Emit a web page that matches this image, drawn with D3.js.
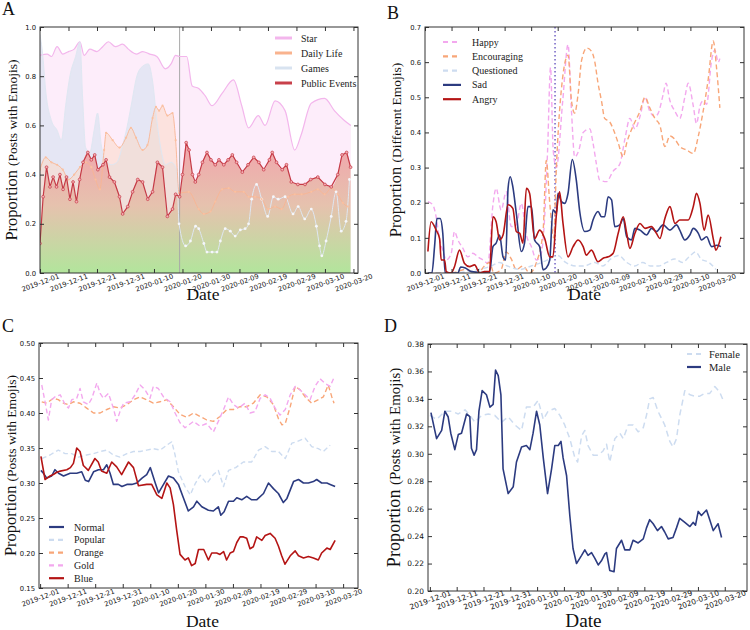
<!DOCTYPE html>
<html><head><meta charset="utf-8">
<script src="https://cdn.jsdelivr.net/npm/d3@7"></script>
<style>body{margin:0;background:#fff;}svg{display:block;}</style>
</head><body>
<svg id="chart" width="750" height="630"></svg>
<script>
// ---------------- DATA ----------------
const startDay = "2019-12-01";
const eventDay = "2020-01-19";
const xTickLabels = ["2019-12-01","2019-12-11","2019-12-21","2019-12-31","2020-01-10","2020-01-20","2020-01-30","2020-02-09","2020-02-19","2020-02-29","2020-03-10","2020-03-20"];
const aYTicks = [0.0,0.2,0.4,0.6,0.8,1.0];
const bYTicks = [0.0,0.1,0.2,0.3,0.4,0.5,0.6,0.7];
const cYTicks = [0.15,0.20,0.25,0.30,0.35,0.40,0.45,0.50];
const dYTicks = [0.20,0.22,0.24,0.26,0.28,0.30,0.32,0.34,0.36,0.38];

const aCategories = ["Star","Daily Life","Games","Public Events"];
const bCategories = ["Happy","Encouraging","Questioned","Sad","Angry"];
const cCategories = ["Normal","Popular","Orange","Gold","Blue"];
const dCategories = ["Female","Male"];

// [day offset from 2019-12-01, proportion]
const aStar = [[0,0.885],[2.5,0.89],[4,0.88],[6,0.92],[8,0.89],[10,0.9],[12,0.91],[14,0.94],[15.5,0.885],[17.5,0.91],[20,0.9],[22,0.92],[24,0.94],[26.5,0.92],[29,0.93],[31,0.91],[34,0.89],[36,0.9],[38.5,0.89],[41,0.88],[44,0.83],[46,0.85],[47.6,0.885],[49,0.88],[51.5,0.88],[53.4,0.76],[55.7,0.75],[58,0.72],[60.4,0.68],[63.9,0.73],[67.9,0.785],[70.8,0.68],[73.2,0.59],[76.6,0.64],[79,0.6],[82.5,0.7],[86,0.66],[89.4,0.5],[91.6,0.56],[95.2,0.69],[99.9,0.71],[103.3,0.66],[106.8,0.62],[109.1,0.6]];
const aGames = [[0,0.97],[1,0.88],[2,0.74],[4,0.62],[6,0.58],[7.5,0.54],[9,0.68],[10.5,0.8],[12.5,0.88],[14,0.94],[15,0.7],[16,0.51],[17.5,0.49],[19,0.58],[20.2,0.65],[21.5,0.52],[23,0.46],[25,0.44],[27,0.45],[29,0.52],[30.5,0.59],[32,0.68],[34,0.8],[36,0.84],[38,0.85],[39.5,0.78],[41,0.62],[42.5,0.5],[44,0.44],[46,0.45],[48,0.42],[48.8,0.2],[51.1,0.11],[52.8,0.13],[54.6,0.19],[55.7,0.18],[57.5,0.12],[58.6,0.085],[60.4,0.085],[62.1,0.085],[63.3,0.13],[65,0.18],[66.8,0.17],[68.5,0.15],[70.3,0.175],[72,0.18],[73.2,0.2],[74.3,0.3],[76,0.36],[77.8,0.3],[79.9,0.23],[81.9,0.31],[83.6,0.3],[86,0.31],[88.8,0.24],[90.6,0.27],[92.9,0.22],[95.2,0.26],[97,0.19],[98.1,0.11],[98.9,0.07],[100.4,0.13],[102.2,0.23],[103.9,0.33],[105.7,0.17],[107.4,0.21],[108.6,0.38]];
const aDaily = [[0,0.42],[2,0.47],[4,0.45],[6,0.44],[8,0.42],[10,0.38],[12,0.4],[14,0.43],[16,0.45],[18,0.43],[19.5,0.38],[21,0.34],[22.5,0.5],[23.2,0.57],[25.5,0.54],[27.9,0.51],[30.2,0.55],[31.9,0.59],[33.7,0.55],[36,0.5],[37.7,0.52],[39.5,0.63],[40.7,0.675],[41.8,0.66],[43,0.68],[44.7,0.64],[46.5,0.65],[47.6,0.54],[48.8,0.325],[52.2,0.33],[55.7,0.26],[57.5,0.24],[59.8,0.25],[61.5,0.29],[63.9,0.34],[66.2,0.345],[68.5,0.33],[71.5,0.33],[73.2,0.31],[75.5,0.31],[77.8,0.3],[80.1,0.26],[82.5,0.27],[84.8,0.26],[87.1,0.31],[89.4,0.32],[91.8,0.32],[95.2,0.33],[97.5,0.34],[99.9,0.32],[102.2,0.345],[104.5,0.32],[106.3,0.285],[108,0.27]];
const aPublic = [[0,0.12],[1.1,0.31],[2.3,0.43],[3.5,0.35],[4.6,0.39],[5.8,0.35],[7,0.4],[8.1,0.34],[9.3,0.39],[10.5,0.3],[11.6,0.37],[12.8,0.29],[13.9,0.38],[15.1,0.45],[16.8,0.49],[18,0.46],[19.2,0.48],[20.3,0.42],[22.1,0.44],[23.2,0.46],[24.4,0.39],[26.1,0.37],[27.9,0.31],[29,0.24],[30.8,0.27],[32.5,0.33],[34.3,0.38],[36,0.37],[37.8,0.3],[39.5,0.33],[41.2,0.45],[43,0.43],[44.7,0.23],[46.5,0.26],[47.6,0.32],[49,0.31],[50,0.4],[51.3,0.53],[52.3,0.5],[53.5,0.4],[54.5,0.37],[55.7,0.4],[57,0.45],[58.6,0.49],[60,0.46],[61.5,0.44],[62.8,0.46],[64.5,0.44],[66,0.46],[67.5,0.48],[69,0.45],[71,0.41],[73,0.44],[75,0.47],[76.8,0.45],[78.5,0.42],[80.5,0.46],[81.5,0.49],[83,0.45],[85,0.42],[86.5,0.44],[88.2,0.37],[90.5,0.36],[93,0.36],[95,0.38],[97.5,0.39],[100,0.36],[102.2,0.35],[104.5,0.4],[106,0.48],[107.6,0.49],[109,0.43]];

const bHappy = [[1.1,0.203],[3,0.193],[4.2,0.16],[5.5,0.094],[6.7,0.065],[8,0.037],[9.9,0.056],[11.1,0.118],[12.4,0.094],[14.3,0.07],[16.1,0.046],[18,0.056],[19.9,0.046],[21.8,0.037],[23.7,0.028],[25.6,0.194],[26.8,0.241],[28.7,0.179],[30.6,0.231],[32.5,0.132],[34.4,0.137],[36.3,0.198],[38.2,0.108],[40.1,0.075],[42,0.037],[43.8,0.056],[45.1,0.16],[46.2,0.35],[47.3,0.585],[48.3,0.35],[49.5,0.3],[51.9,0.49],[53.9,0.65],[55.2,0.46],[56.4,0.33],[58,0.35],[59.6,0.4],[62.1,0.41],[63.3,0.37],[64.6,0.31],[65.8,0.265],[68.4,0.26],[70.9,0.29],[73.4,0.31],[75.3,0.38],[77.2,0.44],[79.1,0.41],[81,0.445],[82.9,0.5],[84.7,0.46],[86.6,0.445],[87.9,0.455],[89.8,0.51],[90.8,0.54],[92.3,0.49],[94.2,0.46],[96,0.44],[97.9,0.5],[99.2,0.54],[101.1,0.475],[102.3,0.425],[103.6,0.475],[104.8,0.49],[106.1,0.48],[108,0.605],[109.2,0.635],[110.5,0.6],[111.1,0.61]];
const bEncouraging = [[1,0],[5,0],[10,0],[15,0.01],[20,0],[22.4,0.02],[24.3,0.03],[26,0],[28.7,0.01],[30.6,0.06],[32.5,0.04],[34.4,0.01],[36.9,0.02],[39.4,0],[42,0.03],[44.5,0.12],[45.7,0.32],[47,0.2],[48.5,0.1],[49.5,0.3],[51,0.49],[53.9,0.62],[55.2,0.49],[56.4,0.455],[57.7,0.51],[59,0.605],[61,0.64],[62.8,0.63],[64,0.6],[65.2,0.54],[66.5,0.49],[67.7,0.44],[69.6,0.43],[70.9,0.41],[72.8,0.37],[74.7,0.33],[76,0.37],[78.5,0.42],[81,0.46],[82.9,0.5],[84.7,0.47],[86.6,0.44],[88.5,0.42],[90.4,0.36],[92.3,0.39],[94.2,0.38],[96,0.36],[98.6,0.35],[101.1,0.34],[103,0.39],[104.8,0.46],[106.7,0.55],[108.6,0.66],[109.9,0.58],[111.1,0.47]];
const bQuestioned = [[1,0],[10,0],[20,0.01],[25,0.02],[28,0.03],[31,0.02],[36,0.01],[40,0.02],[44,0.03],[47,0.04],[50,0.05],[53,0.03],[57,0.02],[60,0.02],[64,0.03],[67,0.02],[70,0.04],[73,0.05],[76,0.03],[79,0.02],[82,0.03],[85,0.02],[88,0.02],[91,0.03],[94,0.04],[97,0.03],[100,0.05],[102,0.06],[104,0.04],[107,0.03],[109.6,0.01]];
const bSad = [[1.1,0],[2.6,0],[3.6,0.075],[4.5,0.155],[5.7,0.155],[6.7,0.113],[7.6,0],[12.4,0],[13.4,0.017],[15.2,0.014],[17.4,0.004],[24.3,0],[25.6,0.075],[26.8,0.085],[28.1,0.108],[29.4,0.046],[30.4,0.037],[31.3,0.241],[32.1,0.274],[33.1,0.245],[34.4,0.17],[36.3,0.061],[37.5,0.085],[38.8,0.189],[40.1,0.189],[41.3,0.094],[43.2,0.075],[44.5,0.009],[45.7,0.014],[47,0.037],[48.2,0.18],[49.5,0.17],[50.1,0.227],[51.4,0.203],[52.6,0.198],[53.9,0.227],[55.5,0.323],[57,0.265],[58.3,0.175],[60.2,0.118],[62.1,0.122],[63.3,0.151],[65.2,0.175],[66.5,0.16],[67.7,0.16],[69,0.217],[70.3,0.208],[71.5,0.132],[73.4,0.137],[74.7,0.155],[76,0.103],[77.8,0.094],[79.1,0.127],[81,0.122],[83.5,0.108],[85.3,0.127],[87.2,0.118],[89.7,0.137],[92.3,0.122],[94.8,0.137],[96,0.122],[97.9,0.094],[99.8,0.108],[101.1,0.127],[103,0.113],[104.2,0.094],[106.1,0.103],[108,0.075],[109.9,0.079],[111.5,0.075]];
const bAngry = [[1.1,0.061],[2.3,0.146],[4.2,0.122],[5.5,0.098],[6.1,0.037],[7.4,0.037],[8,0.004],[9.9,0],[11.1,0.018],[13,0.065],[14.9,0.027],[16.8,0.018],[18.7,0.023],[20.6,0],[22.4,0.004],[24.3,0.004],[25.6,0.16],[26.8,0.146],[28.1,0.094],[29.4,0.108],[31.3,0.194],[33.1,0.184],[34.4,0.118],[35.7,0.113],[36.9,0.085],[38.2,0.241],[39.4,0.227],[41.3,0.098],[43.2,0.122],[45.1,0.098],[47,0.046],[48.2,0.046],[49.5,0.165],[50.7,0.231],[52,0.141],[53.9,0.046],[55.8,0.075],[57.7,0.094],[59.6,0.075],[60.8,0.051],[62.7,0.065],[65.2,0.032],[67.1,0.042],[69,0.046],[70.9,0.056],[72.8,0.113],[74.7,0.16],[76,0.113],[77.2,0.07],[79.1,0.113],[81,0.141],[82.9,0.127],[85.3,0.132],[87.2,0.113],[88.5,0.098],[90.4,0.155],[92.3,0.189],[94.2,0.141],[96,0.151],[99.2,0.151],[101.1,0.189],[102.3,0.227],[103.6,0.198],[105.2,0.122],[106.7,0.165],[108.6,0.098],[109.6,0.065],[111.5,0.103]];

const cNormal = [[0.3,0.318],[1.2,0.314],[2.4,0.307],[4.2,0.31],[5.4,0.319],[6.7,0.314],[8.5,0.31],[10.9,0.314],[13.3,0.314],[15.1,0.316],[16.4,0.304],[17.6,0.302],[19.4,0.316],[21.2,0.319],[23,0.319],[24.2,0.326],[25.4,0.314],[26.6,0.298],[28.4,0.298],[29.7,0.295],[31.5,0.298],[33.3,0.298],[35.1,0.3],[37,0.307],[38.7,0.312],[40,0.322],[41.8,0.3],[43,0.286],[44.8,0.298],[46.6,0.31],[48.4,0.307],[50.2,0.298],[52,0.279],[53.8,0.26],[55.7,0.266],[56.9,0.274],[58.7,0.266],[61.1,0.261],[62.9,0.26],[64.7,0.266],[65.6,0.254],[66.8,0.259],[68.4,0.274],[70.2,0.274],[71.4,0.279],[73.2,0.276],[75,0.281],[76.8,0.276],[78.6,0.276],[81.1,0.285],[82.9,0.3],[84.7,0.292],[86.5,0.285],[88.3,0.272],[89.6,0.278],[92,0.302],[93.8,0.305],[95.6,0.3],[97.4,0.3],[99.2,0.302],[100.4,0.305],[102.2,0.3],[104.1,0.3],[105.3,0.298],[107.1,0.295]];
const cPopular = [[0.6,0.335],[3.6,0.34],[6.6,0.347],[9.1,0.342],[11.5,0.342],[13.9,0.337],[16.9,0.34],[19.4,0.342],[21.8,0.345],[24.2,0.347],[26.6,0.34],[29,0.337],[31.5,0.342],[33.9,0.345],[36.3,0.345],[38.7,0.347],[41.1,0.349],[43.6,0.347],[46,0.354],[47.8,0.359],[49,0.34],[50.2,0.316],[52.6,0.295],[54.5,0.283],[56.3,0.299],[58.1,0.311],[60.5,0.299],[62.9,0.312],[64.7,0.318],[66.6,0.295],[68.4,0.318],[71,0.322],[73.8,0.33],[76.8,0.33],[79.3,0.347],[81.7,0.352],[84.1,0.345],[86.5,0.345],[89,0.335],[91.4,0.357],[93.2,0.359],[96.2,0.364],[98.6,0.352],[101,0.349],[102.8,0.345],[105.3,0.354]];
const cOrange = [[0.6,0.416],[2.4,0.414],[4.8,0.421],[6.6,0.419],[8.5,0.414],[10.3,0.412],[12.1,0.416],[14.5,0.414],[16.9,0.407],[19.4,0.4],[21.8,0.4],[24.2,0.405],[26.6,0.409],[29,0.407],[31.5,0.412],[33.9,0.419],[36.3,0.423],[38.7,0.419],[41.1,0.414],[43.5,0.416],[46,0.419],[48.4,0.409],[50.8,0.398],[53.2,0.394],[55.7,0.4],[58.1,0.395],[60.5,0.39],[62.9,0.388],[65.3,0.395],[67.8,0.405],[70.2,0.405],[72.6,0.409],[75,0.409],[77.4,0.414],[79.9,0.426],[82.3,0.423],[84.7,0.412],[86.5,0.392],[87.8,0.383],[89,0.385],[90.8,0.409],[92.6,0.438],[94.4,0.433],[96.2,0.423],[98.6,0.414],[101,0.419],[102.8,0.423],[104.6,0.44],[105.9,0.423],[106.7,0.414]];
const cGold = [[0.6,0.44],[1.8,0.416],[3,0.39],[4.2,0.419],[5.4,0.423],[7.3,0.426],[9.1,0.412],[10.3,0.407],[11.5,0.419],[13.3,0.421],[14.5,0.435],[15.7,0.416],[17.5,0.412],[18.8,0.421],[20.6,0.443],[21.8,0.428],[23,0.421],[24.8,0.428],[26.6,0.407],[27.8,0.388],[29,0.402],[30.3,0.414],[32.7,0.416],[34.5,0.426],[36.3,0.44],[38.1,0.433],[39.9,0.421],[41.1,0.438],[42.9,0.435],[44.8,0.423],[47.2,0.416],[49,0.4],[50.8,0.386],[52.6,0.379],[55.7,0.388],[58.1,0.381],[60.5,0.385],[62.9,0.373],[64.7,0.388],[66.6,0.405],[68.4,0.423],[70.2,0.412],[72,0.407],[74.4,0.414],[76.2,0.4],[78,0.402],[79.9,0.421],[81.7,0.426],[83.5,0.421],[85.3,0.407],[87.1,0.397],[89,0.405],[90.8,0.426],[92.6,0.438],[94.4,0.433],[96.2,0.426],[98,0.419],[99.8,0.438],[101.6,0.449],[103.5,0.442],[105.3,0.438],[106.5,0.449]];
const cBlue = [[0.3,0.338],[1.8,0.305],[2.5,0.307],[3.6,0.31],[4.8,0.312],[5.9,0.315],[7.3,0.317],[9.7,0.319],[11,0.322],[12.1,0.328],[13.3,0.35],[14.5,0.345],[15.7,0.325],[17.5,0.318],[19.9,0.335],[21.1,0.33],[22.3,0.317],[24.2,0.314],[26,0.33],[27.8,0.323],[29.6,0.312],[32.1,0.33],[33.9,0.322],[35.7,0.296],[38.7,0.298],[40.5,0.298],[42.4,0.283],[44.2,0.278],[46,0.3],[47.2,0.293],[48.4,0.269],[49.6,0.232],[50.8,0.198],[52.6,0.19],[53.8,0.193],[55,0.182],[56.3,0.185],[57.5,0.205],[59.4,0.205],[61.1,0.19],[62.3,0.2],[64.1,0.2],[65.3,0.198],[66.6,0.202],[67.7,0.19],[69,0.2],[70.2,0.202],[71.4,0.215],[72.6,0.223],[73.8,0.223],[75,0.221],[76.2,0.206],[77.4,0.209],[78.6,0.223],[80.5,0.218],[81.7,0.225],[83.5,0.228],[85.3,0.221],[86.5,0.21],[87.7,0.196],[88.9,0.184],[90.8,0.196],[92.6,0.203],[93.8,0.196],[95.6,0.193],[97.4,0.195],[99.2,0.193],[101,0.19],[102.2,0.2],[104.1,0.207],[105.3,0.205],[107.1,0.218]];

const dFemale = [[0,0.328],[2.5,0.325],[5.6,0.331],[8.1,0.331],[10.6,0.329],[13.1,0.332],[14.9,0.328],[16.8,0.323],[19.3,0.328],[21.8,0.329],[24.2,0.328],[26.7,0.323],[29.2,0.327],[31.7,0.321],[34.2,0.317],[36,0.334],[38.5,0.334],[40.4,0.339],[42.3,0.325],[44.1,0.331],[46.6,0.333],[48.5,0.328],[50.3,0.321],[52.2,0.311],[54.1,0.297],[55.1,0.294],[56.6,0.313],[57.8,0.317],[59,0.306],[60.9,0.299],[62.8,0.299],[64.6,0.302],[65.9,0.307],[67.1,0.294],[69,0.311],[70.9,0.315],[72.1,0.311],[74,0.321],[75.8,0.321],[77.7,0.316],[79.6,0.319],[80.8,0.328],[82,0.34],[83.3,0.341],[85.1,0.331],[87.6,0.321],[89.5,0.309],[90.7,0.305],[92,0.311],[93.2,0.328],[95.1,0.346],[97,0.343],[98.8,0.342],[100.7,0.342],[102.5,0.344],[104.4,0.344],[106.3,0.349],[108.1,0.345],[109.4,0.339]];
const dMale = [[0.4,0.33],[2.5,0.311],[4.4,0.317],[5.6,0.331],[6.8,0.327],[7.8,0.315],[9.3,0.303],[10.6,0.314],[11.8,0.315],[13.7,0.329],[14.9,0.327],[15.5,0.304],[16.5,0.299],[17.4,0.303],[18.3,0.331],[19.5,0.346],[21.1,0.343],[22.4,0.334],[23.6,0.336],[24.5,0.361],[25.5,0.357],[26.5,0.343],[27.3,0.289],[29.2,0.271],[31.1,0.276],[32.3,0.294],[34.2,0.305],[36,0.306],[37.3,0.303],[38.5,0.315],[39.8,0.331],[41,0.321],[42.3,0.297],[43.9,0.271],[45.4,0.289],[46.6,0.306],[47.9,0.306],[48.9,0.309],[49.7,0.297],[51,0.284],[52.2,0.255],[53.4,0.231],[54.7,0.22],[56.6,0.226],[57.8,0.23],[59,0.226],[60.3,0.228],[61.5,0.224],[62.8,0.219],[64,0.222],[65.3,0.227],[65.9,0.228],[67.1,0.215],[68.7,0.214],[69.6,0.231],[71.5,0.237],[72.7,0.23],[74.6,0.23],[75.8,0.237],[77.7,0.235],[79.6,0.238],[80.8,0.246],[82,0.252],[83.3,0.249],[84.9,0.244],[86.4,0.247],[87.6,0.243],[88.9,0.238],[90.7,0.239],[92,0.246],[93.2,0.253],[95.1,0.25],[97,0.247],[98.2,0.25],[99.1,0.248],[100.1,0.258],[101.3,0.255],[103.2,0.259],[104.4,0.252],[105.7,0.244],[107.5,0.249],[108.8,0.239]];

// ---------------- DRAWING ----------------
const SERIF = "'Liberation Serif','Times New Roman',serif";
const SANS = "'DejaVu Sans',sans-serif";
const svg = d3.select("#chart");
const defs = svg.append("defs");
const parse = d3.utcParse("%Y-%m-%d");
const t0 = parse(startDay);
const dayToDate = d => new Date(t0.getTime() + d * 864e5);
const tickDates = xTickLabels.map(parse);

function panel(cfg) {
  const x = d3.scaleUtc().domain([dayToDate(cfg.days[0]), dayToDate(cfg.days[1])]).range([cfg.left, cfg.right]);
  const y = d3.scaleLinear().domain(cfg.yDomain).range([cfg.bottom, cfg.top]);
  const g = svg.append("g");
  const clipId = "clip-" + cfg.letter;
  defs.append("clipPath").attr("id", clipId).append("rect")
    .attr("x", cfg.left).attr("y", cfg.top).attr("width", cfg.right - cfg.left).attr("height", cfg.bottom - cfg.top);
  const plot = g.append("g").attr("clip-path", `url(#${clipId})`);
  return {cfg, x, y, g, plot};
}

function decorate(P) {
  const {cfg, x, y, g} = P;
  const fs = cfg.fs || 1;
  const axStyle = sel => sel.attr("font-size", 6.8 * fs).attr("font-family", SANS).attr("color", "#333");
  const bx = g.append("g").attr("transform", `translate(0,${cfg.bottom})`)
    .call(d3.axisBottom(x).tickValues(tickDates).tickFormat(d3.utcFormat("%Y-%m-%d")).tickSizeInner(-4).tickSizeOuter(0));
  axStyle(bx); bx.select(".domain").remove();
  bx.selectAll("text").attr("y", null).attr("dy", null).attr("fill", "#111")
    .attr("dominant-baseline", "central").attr("text-anchor", "middle")
    .attr("transform", `translate(0,${cfg.labOff || 10}) rotate(-20)`);
  const tx = g.append("g").attr("transform", `translate(0,${cfg.top})`)
    .call(d3.axisTop(x).tickValues(tickDates).tickFormat("").tickSizeInner(-4).tickSizeOuter(0));
  axStyle(tx); tx.select(".domain").remove();
  const ly = g.append("g").attr("transform", `translate(${cfg.left},0)`)
    .call(d3.axisLeft(y).tickValues(cfg.yTicks).tickFormat(d3.format(cfg.yFmt)).tickSizeInner(-4).tickSizeOuter(0).tickPadding(4));
  axStyle(ly); ly.select(".domain").remove(); ly.selectAll("text").attr("fill", "#111");
  const ry = g.append("g").attr("transform", `translate(${cfg.right},0)`)
    .call(d3.axisRight(y).tickValues(cfg.yTicks).tickFormat("").tickSizeInner(-4).tickSizeOuter(0));
  axStyle(ry); ry.select(".domain").remove();
  g.append("rect").attr("x", cfg.left).attr("y", cfg.top).attr("width", cfg.right - cfg.left).attr("height", cfg.bottom - cfg.top)
    .attr("fill", "none").attr("stroke", "#333").attr("stroke-width", 1);
  g.append("text").attr("x", cfg.letterX).attr("y", cfg.letterY).attr("font-family", SERIF).attr("font-size", 18).attr("fill", "#111").text(cfg.letter);
  const yl = g.append("text").attr("transform", `translate(${cfg.ylabX},${(cfg.top + cfg.bottom) / 2}) rotate(-90)`)
    .attr("text-anchor", "middle").attr("font-family", SERIF).attr("fill", "#111");
  yl.append("tspan").attr("font-size", 16.5 * fs).text("Proportion ");
  yl.append("tspan").attr("font-size", 13.5 * fs).text(cfg.ylabSub);
  g.append("text").attr("x", (cfg.left + cfg.right) / 2 + (cfg.dateDx || 0)).attr("y", cfg.dateY).attr("text-anchor", "middle")
    .attr("font-family", SERIF).attr("font-size", 17.5 * fs).attr("fill", "#111").text("Date");
}

function drawLine(P, data, st) {
  const line = d3.line().x(d => P.x(dayToDate(d[0]))).y(d => P.y(d[1])).curve(st.curve || d3.curveLinear);
  P.plot.append("path").attr("d", line(data)).attr("fill", "none").attr("stroke", st.color)
    .attr("stroke-width", st.w || 1.5).attr("stroke-dasharray", st.dash || null).attr("opacity", st.op || 1)
    .attr("stroke-linejoin", "round");
}
function drawArea(P, data, fill, op, y0v) {
  const area = d3.area().x(d => P.x(dayToDate(d[0]))).y0(P.y(y0v)).y1(d => P.y(d[1])).curve(d3.curveMonotoneX);
  P.plot.append("path").attr("d", area(data)).attr("fill", fill).attr("opacity", op);
}
function drawDots(P, data, r, fill, stroke) {
  P.plot.append("g").selectAll("circle").data(data).join("circle")
    .attr("cx", d => P.x(dayToDate(d[0]))).attr("cy", d => P.y(d[1])).attr("r", r)
    .attr("fill", fill).attr("stroke", stroke || "none").attr("stroke-width", 0.7);
}
function legend(g, items, o) {
  items.forEach((it, i) => {
    const yy = o.y + i * o.dy;
    g.append("line").attr("x1", o.x).attr("x2", o.x + o.len).attr("y1", yy).attr("y2", yy)
      .attr("stroke", it.color).attr("stroke-width", it.w).attr("stroke-dasharray", it.dash || null);
    g.append("text").attr("x", o.tx).attr("y", yy).attr("dominant-baseline", "central")
      .attr("font-family", SERIF).attr("font-size", o.fs || 10).attr("fill", "#222").text(it.label);
  });
}

// ---- Panel A ----
const PA = panel({letter: "A", left: 40, right: 358, top: 27, bottom: 273, days: [0, 111.6], yDomain: [0, 1],
  yTicks: aYTicks, yFmt: ".1f", letterX: 2, letterY: 15, ylabX: 17, ylabSub: "(Posts with Emojis)", dateY: 300, dateDx: 4});
const gradA = defs.append("linearGradient").attr("id", "gradA").attr("gradientUnits", "userSpaceOnUse")
  .attr("x1", 0).attr("x2", 0).attr("y1", PA.y(0.55)).attr("y2", PA.y(0));
gradA.append("stop").attr("offset", "0%").attr("stop-color", "#f2a2ac");
gradA.append("stop").attr("offset", "50%").attr("stop-color", "#e6c2ae");
gradA.append("stop").attr("offset", "100%").attr("stop-color", "#b2e59c");
drawArea(PA, aStar, "#fdedfa", 1, 0);
drawArea(PA, aGames, "#e4e6f3", 0.95, 0);
drawArea(PA, aDaily, "#fcd9c6", 0.55, 0);
drawArea(PA, aPublic, "url(#gradA)", 1, 0);
PA.plot.append("line").attr("x1", PA.x(parse(eventDay))).attr("x2", PA.x(parse(eventDay)))
  .attr("y1", PA.cfg.top).attr("y2", PA.cfg.bottom).attr("stroke", "#a8a8a8").attr("stroke-width", 1);
drawLine(PA, aStar, {color: "#f3b6ec", w: 1.2, curve: d3.curveMonotoneX});
drawLine(PA, aGames, {color: "#dfe7f2", w: 1, curve: d3.curveMonotoneX});
drawLine(PA, aDaily, {color: "#f8b592", w: 1, curve: d3.curveMonotoneX, op: 0.9});
drawDots(PA, aGames.filter(d => d[0] > 48.5), 1.4, "#f5f7fb");
drawDots(PA, aDaily, 1.1, "#fac0a0");
drawLine(PA, aPublic, {color: "#c53a46", w: 1.2});
drawDots(PA, aPublic, 1.4, "#f4b0b4", "#c53a46");
decorate(PA);
legend(PA.g, [
  {label: aCategories[0], color: "#f3b6ec", w: 3},
  {label: aCategories[1], color: "#f9b38e", w: 3},
  {label: aCategories[2], color: "#d8e3f0", w: 3},
  {label: aCategories[3], color: "#c8404a", w: 3}
], {x: 275, len: 17, tx: 301, y: 38, dy: 15});

// ---- Panel B ----
const PB = panel({letter: "B", left: 425, right: 744, top: 27, bottom: 273, days: [0, 120.2], yDomain: [0, 0.7],
  yTicks: bYTicks, yFmt: ".1f", letterX: 387, letterY: 19, ylabX: 401, ylabSub: "(Different Emojis)", dateY: 300});
PB.plot.append("line").attr("x1", PB.x(parse(eventDay))).attr("x2", PB.x(parse(eventDay)))
  .attr("y1", PB.cfg.top).attr("y2", PB.cfg.bottom).attr("stroke", "#7c6cc8").attr("stroke-width", 1.6).attr("stroke-dasharray", "1.5,2.5");
const bStyles = [
  {color: "#f3a8ee", w: 1.4, dash: "5,3"},
  {color: "#f8a678", w: 1.4, dash: "5,3"},
  {color: "#cddcf0", w: 1.4, dash: "5,3"},
  {color: "#2c3b80", w: 1.6},
  {color: "#b41414", w: 1.6}
];
[bHappy, bEncouraging, bQuestioned, bSad, bAngry].forEach((s, i) =>
  drawLine(PB, s, Object.assign({curve: d3.curveMonotoneX}, bStyles[i])));
decorate(PB);
legend(PB.g, bCategories.map((c, i) => ({label: c, color: bStyles[i].color, w: 2.2, dash: bStyles[i].dash ? "5,4" : null})),
  {x: 443, len: 18, tx: 472, y: 42, dy: 14.3});

// ---- Panel C ----
const PC = panel({letter: "C", left: 39, right: 358, top: 343, bottom: 588, days: [-0.4, 115.4], yDomain: [0.15, 0.5],
  yTicks: cYTicks, yFmt: ".2f", letterX: 2, letterY: 332, ylabX: 16, ylabSub: "(Posts with Emojis)", dateY: 627, dateDx: 4});
const cStyles = [
  {color: "#2c3b80", w: 1.6},
  {color: "#cddcf0", w: 1.4, dash: "5,3"},
  {color: "#f8a678", w: 1.4, dash: "5,3"},
  {color: "#f3a8ee", w: 1.4, dash: "5,3"},
  {color: "#b41414", w: 1.6}
];
[cNormal, cPopular, cOrange, cGold, cBlue].forEach((s, i) => drawLine(PC, s, cStyles[i]));
decorate(PC);
legend(PC.g, cCategories.map((c, i) => ({label: c, color: cStyles[i].color, w: 2.2, dash: cStyles[i].dash ? "5,4" : null})),
  {x: 49, len: 15, tx: 74, y: 527, dy: 12.8});

// ---- Panel D ----
const PD = panel({letter: "D", left: 428, right: 747, top: 344, bottom: 591, days: [-0.7, 118.3], yDomain: [0.2, 0.38],
  yTicks: dYTicks, yFmt: ".2f", letterX: 384, letterY: 332, ylabX: 400, ylabSub: "(Posts with Emojis)", dateY: 627, dateDx: -4, fs: 1.1, labOff: 9});
const dStyles = [
  {color: "#cddcf0", w: 1.5, dash: "6,4"},
  {color: "#2c3b80", w: 1.6}
];
drawLine(PD, dFemale, dStyles[0]);
drawLine(PD, dMale, dStyles[1]);
decorate(PD);
legend(PD.g, dCategories.map((c, i) => ({label: c, color: dStyles[i].color, w: 2.2, dash: dStyles[i].dash ? "5,4" : null})),
  {x: 687, len: 14, tx: 709, y: 354, dy: 13, fs: 10.5});
</script>
</body></html>
